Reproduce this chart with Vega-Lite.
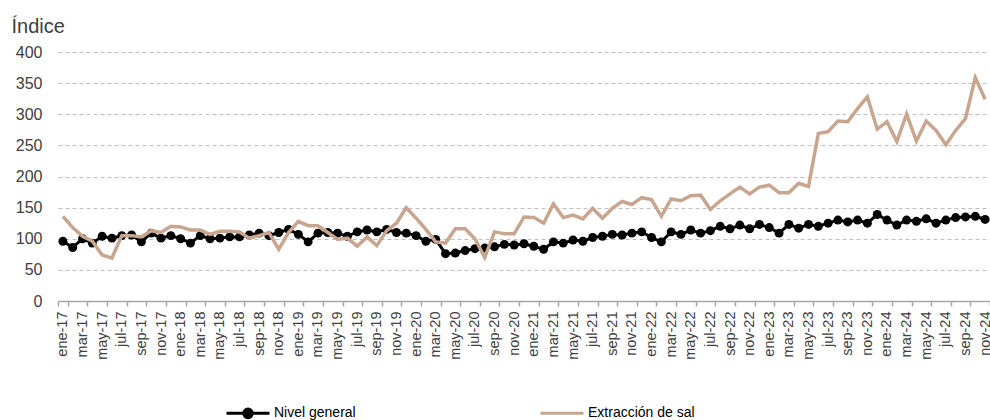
{
  "$schema": "https://vega.github.io/schema/vega-lite/v6.json",
  "width": 932,
  "height": 249,
  "autosize": {"type": "none"},
  "padding": {"left": 58, "top": 52, "right": 0, "bottom": 119},
  "background": "white",
  "config": {"view": {"stroke": null}, "font": "Liberation Sans"},
  "datasets": {
    "d": [
      {"mes":"ene-17","serie":"Nivel general","valor":96},{"mes":"feb-17","serie":"Nivel general","valor":86},{"mes":"mar-17","serie":"Nivel general","valor":100},{"mes":"abr-17","serie":"Nivel general","valor":93},{"mes":"may-17","serie":"Nivel general","valor":104},{"mes":"jun-17","serie":"Nivel general","valor":101},{"mes":"jul-17","serie":"Nivel general","valor":105},{"mes":"ago-17","serie":"Nivel general","valor":106},{"mes":"sep-17","serie":"Nivel general","valor":95},{"mes":"oct-17","serie":"Nivel general","valor":109},{"mes":"nov-17","serie":"Nivel general","valor":101},{"mes":"dic-17","serie":"Nivel general","valor":105},
      {"mes":"ene-18","serie":"Nivel general","valor":100},{"mes":"feb-18","serie":"Nivel general","valor":93},{"mes":"mar-18","serie":"Nivel general","valor":105},{"mes":"abr-18","serie":"Nivel general","valor":100},{"mes":"may-18","serie":"Nivel general","valor":101},{"mes":"jun-18","serie":"Nivel general","valor":103},{"mes":"jul-18","serie":"Nivel general","valor":103},{"mes":"ago-18","serie":"Nivel general","valor":106},{"mes":"sep-18","serie":"Nivel general","valor":109},{"mes":"oct-18","serie":"Nivel general","valor":105},{"mes":"nov-18","serie":"Nivel general","valor":110},{"mes":"dic-18","serie":"Nivel general","valor":115},
      {"mes":"ene-19","serie":"Nivel general","valor":107},{"mes":"feb-19","serie":"Nivel general","valor":95},{"mes":"mar-19","serie":"Nivel general","valor":109},{"mes":"abr-19","serie":"Nivel general","valor":110},{"mes":"may-19","serie":"Nivel general","valor":109},{"mes":"jun-19","serie":"Nivel general","valor":104},{"mes":"jul-19","serie":"Nivel general","valor":111},{"mes":"ago-19","serie":"Nivel general","valor":114},{"mes":"sep-19","serie":"Nivel general","valor":111},{"mes":"oct-19","serie":"Nivel general","valor":115},{"mes":"nov-19","serie":"Nivel general","valor":110},{"mes":"dic-19","serie":"Nivel general","valor":109},
      {"mes":"ene-20","serie":"Nivel general","valor":105},{"mes":"feb-20","serie":"Nivel general","valor":96},{"mes":"mar-20","serie":"Nivel general","valor":99},{"mes":"abr-20","serie":"Nivel general","valor":76},{"mes":"may-20","serie":"Nivel general","valor":77},{"mes":"jun-20","serie":"Nivel general","valor":81},{"mes":"jul-20","serie":"Nivel general","valor":84},{"mes":"ago-20","serie":"Nivel general","valor":85},{"mes":"sep-20","serie":"Nivel general","valor":87},{"mes":"oct-20","serie":"Nivel general","valor":91},{"mes":"nov-20","serie":"Nivel general","valor":90},{"mes":"dic-20","serie":"Nivel general","valor":92},
      {"mes":"ene-21","serie":"Nivel general","valor":88},{"mes":"feb-21","serie":"Nivel general","valor":83},{"mes":"mar-21","serie":"Nivel general","valor":95},{"mes":"abr-21","serie":"Nivel general","valor":93},{"mes":"may-21","serie":"Nivel general","valor":98},{"mes":"jun-21","serie":"Nivel general","valor":96},{"mes":"jul-21","serie":"Nivel general","valor":102},{"mes":"ago-21","serie":"Nivel general","valor":104},{"mes":"sep-21","serie":"Nivel general","valor":107},{"mes":"oct-21","serie":"Nivel general","valor":106},{"mes":"nov-21","serie":"Nivel general","valor":109},{"mes":"dic-21","serie":"Nivel general","valor":111},
      {"mes":"ene-22","serie":"Nivel general","valor":102},{"mes":"feb-22","serie":"Nivel general","valor":95},{"mes":"mar-22","serie":"Nivel general","valor":111},{"mes":"abr-22","serie":"Nivel general","valor":107},{"mes":"may-22","serie":"Nivel general","valor":114},{"mes":"jun-22","serie":"Nivel general","valor":109},{"mes":"jul-22","serie":"Nivel general","valor":113},{"mes":"ago-22","serie":"Nivel general","valor":120},{"mes":"sep-22","serie":"Nivel general","valor":116},{"mes":"oct-22","serie":"Nivel general","valor":122},{"mes":"nov-22","serie":"Nivel general","valor":116},{"mes":"dic-22","serie":"Nivel general","valor":123},
      {"mes":"ene-23","serie":"Nivel general","valor":118},{"mes":"feb-23","serie":"Nivel general","valor":109},{"mes":"mar-23","serie":"Nivel general","valor":123},{"mes":"abr-23","serie":"Nivel general","valor":117},{"mes":"may-23","serie":"Nivel general","valor":123},{"mes":"jun-23","serie":"Nivel general","valor":120},{"mes":"jul-23","serie":"Nivel general","valor":125},{"mes":"ago-23","serie":"Nivel general","valor":130},{"mes":"sep-23","serie":"Nivel general","valor":127},{"mes":"oct-23","serie":"Nivel general","valor":130},{"mes":"nov-23","serie":"Nivel general","valor":125},{"mes":"dic-23","serie":"Nivel general","valor":139},
      {"mes":"ene-24","serie":"Nivel general","valor":130},{"mes":"feb-24","serie":"Nivel general","valor":122},{"mes":"mar-24","serie":"Nivel general","valor":130},{"mes":"abr-24","serie":"Nivel general","valor":128},{"mes":"may-24","serie":"Nivel general","valor":132},{"mes":"jun-24","serie":"Nivel general","valor":125},{"mes":"jul-24","serie":"Nivel general","valor":130},{"mes":"ago-24","serie":"Nivel general","valor":134},{"mes":"sep-24","serie":"Nivel general","valor":135},{"mes":"oct-24","serie":"Nivel general","valor":136},{"mes":"nov-24","serie":"Nivel general","valor":131},
      {"mes":"ene-17","serie":"Extracción de sal","valor":136},{"mes":"feb-17","serie":"Extracción de sal","valor":118},{"mes":"mar-17","serie":"Extracción de sal","valor":104},{"mes":"abr-17","serie":"Extracción de sal","valor":96},{"mes":"may-17","serie":"Extracción de sal","valor":74},{"mes":"jun-17","serie":"Extracción de sal","valor":69},{"mes":"jul-17","serie":"Extracción de sal","valor":105},{"mes":"ago-17","serie":"Extracción de sal","valor":105},{"mes":"sep-17","serie":"Extracción de sal","valor":103},{"mes":"oct-17","serie":"Extracción de sal","valor":113},{"mes":"nov-17","serie":"Extracción de sal","valor":110},{"mes":"dic-17","serie":"Extracción de sal","valor":120},
      {"mes":"ene-18","serie":"Extracción de sal","valor":119},{"mes":"feb-18","serie":"Extracción de sal","valor":114},{"mes":"mar-18","serie":"Extracción de sal","valor":114},{"mes":"abr-18","serie":"Extracción de sal","valor":107},{"mes":"may-18","serie":"Extracción de sal","valor":112},{"mes":"jun-18","serie":"Extracción de sal","valor":112},{"mes":"jul-18","serie":"Extracción de sal","valor":111},{"mes":"ago-18","serie":"Extracción de sal","valor":101},{"mes":"sep-18","serie":"Extracción de sal","valor":105},{"mes":"oct-18","serie":"Extracción de sal","valor":110},{"mes":"nov-18","serie":"Extracción de sal","valor":83},{"mes":"dic-18","serie":"Extracción de sal","valor":110},
      {"mes":"ene-19","serie":"Extracción de sal","valor":128},{"mes":"feb-19","serie":"Extracción de sal","valor":121},{"mes":"mar-19","serie":"Extracción de sal","valor":121},{"mes":"abr-19","serie":"Extracción de sal","valor":110},{"mes":"may-19","serie":"Extracción de sal","valor":99},{"mes":"jun-19","serie":"Extracción de sal","valor":101},{"mes":"jul-19","serie":"Extracción de sal","valor":88},{"mes":"ago-19","serie":"Extracción de sal","valor":103},{"mes":"sep-19","serie":"Extracción de sal","valor":89},{"mes":"oct-19","serie":"Extracción de sal","valor":113},{"mes":"nov-19","serie":"Extracción de sal","valor":125},{"mes":"dic-19","serie":"Extracción de sal","valor":150},
      {"mes":"ene-20","serie":"Extracción de sal","valor":133},{"mes":"feb-20","serie":"Extracción de sal","valor":115},{"mes":"mar-20","serie":"Extracción de sal","valor":95},{"mes":"abr-20","serie":"Extracción de sal","valor":93},{"mes":"may-20","serie":"Extracción de sal","valor":116},{"mes":"jun-20","serie":"Extracción de sal","valor":116},{"mes":"jul-20","serie":"Extracción de sal","valor":100},{"mes":"ago-20","serie":"Extracción de sal","valor":70},{"mes":"sep-20","serie":"Extracción de sal","valor":111},{"mes":"oct-20","serie":"Extracción de sal","valor":108},{"mes":"nov-20","serie":"Extracción de sal","valor":108},{"mes":"dic-20","serie":"Extracción de sal","valor":135},
      {"mes":"ene-21","serie":"Extracción de sal","valor":134},{"mes":"feb-21","serie":"Extracción de sal","valor":125},{"mes":"mar-21","serie":"Extracción de sal","valor":156},{"mes":"abr-21","serie":"Extracción de sal","valor":134},{"mes":"may-21","serie":"Extracción de sal","valor":138},{"mes":"jun-21","serie":"Extracción de sal","valor":132},{"mes":"jul-21","serie":"Extracción de sal","valor":149},{"mes":"ago-21","serie":"Extracción de sal","valor":133},{"mes":"sep-21","serie":"Extracción de sal","valor":149},{"mes":"oct-21","serie":"Extracción de sal","valor":160},{"mes":"nov-21","serie":"Extracción de sal","valor":155},{"mes":"dic-21","serie":"Extracción de sal","valor":166},
      {"mes":"ene-22","serie":"Extracción de sal","valor":163},{"mes":"feb-22","serie":"Extracción de sal","valor":136},{"mes":"mar-22","serie":"Extracción de sal","valor":164},{"mes":"abr-22","serie":"Extracción de sal","valor":161},{"mes":"may-22","serie":"Extracción de sal","valor":169},{"mes":"jun-22","serie":"Extracción de sal","valor":170},{"mes":"jul-22","serie":"Extracción de sal","valor":147},{"mes":"ago-22","serie":"Extracción de sal","valor":161},{"mes":"sep-22","serie":"Extracción de sal","valor":172},{"mes":"oct-22","serie":"Extracción de sal","valor":183},{"mes":"nov-22","serie":"Extracción de sal","valor":172},{"mes":"dic-22","serie":"Extracción de sal","valor":183},
      {"mes":"ene-23","serie":"Extracción de sal","valor":186},{"mes":"feb-23","serie":"Extracción de sal","valor":174},{"mes":"mar-23","serie":"Extracción de sal","valor":174},{"mes":"abr-23","serie":"Extracción de sal","valor":189},{"mes":"may-23","serie":"Extracción de sal","valor":184},{"mes":"jun-23","serie":"Extracción de sal","valor":269},{"mes":"jul-23","serie":"Extracción de sal","valor":272},{"mes":"ago-23","serie":"Extracción de sal","valor":289},{"mes":"sep-23","serie":"Extracción de sal","valor":288},{"mes":"oct-23","serie":"Extracción de sal","valor":309},{"mes":"nov-23","serie":"Extracción de sal","valor":328},{"mes":"dic-23","serie":"Extracción de sal","valor":276},
      {"mes":"ene-24","serie":"Extracción de sal","valor":288},{"mes":"feb-24","serie":"Extracción de sal","valor":256},{"mes":"mar-24","serie":"Extracción de sal","valor":300},{"mes":"abr-24","serie":"Extracción de sal","valor":257},{"mes":"may-24","serie":"Extracción de sal","valor":289},{"mes":"jun-24","serie":"Extracción de sal","valor":274},{"mes":"jul-24","serie":"Extracción de sal","valor":251},{"mes":"ago-24","serie":"Extracción de sal","valor":274},{"mes":"sep-24","serie":"Extracción de sal","valor":293},{"mes":"oct-24","serie":"Extracción de sal","valor":359},{"mes":"nov-24","serie":"Extracción de sal","valor":324}
    ]
  },
  "data": {"name": "d"},
  "encoding": {
    "x": {
      "field": "mes", "type": "ordinal", "sort": null,
      "scale": {"paddingInner": 0, "paddingOuter": 0},
      "axis": {
        "title": null,
        "values": ["ene-17","mar-17","may-17","jul-17","sep-17","nov-17","ene-18","mar-18","may-18","jul-18","sep-18","nov-18","ene-19","mar-19","may-19","jul-19","sep-19","nov-19","ene-20","mar-20","may-20","jul-20","sep-20","nov-20","ene-21","mar-21","may-21","jul-21","sep-21","nov-21","ene-22","mar-22","may-22","jul-22","sep-22","nov-22","ene-23","mar-23","may-23","jul-23","sep-23","nov-23","ene-24","mar-24","may-24","jul-24","sep-24","nov-24"],
        "labelAngle": -90, "labelFontSize": 14.5, "labelColor": "#404040", "labelFont": "Liberation Sans",
        "labelPadding": 5, "tickSize": 5, "tickColor": "#A6A6A6", "tickWidth": 1.5,
        "domainColor": "#A6A6A6", "domainWidth": 1.5, "tickBand": "extent",
        "labelOverlap": false, "grid": false
      }
    },
    "y": {
      "field": "valor", "type": "quantitative",
      "scale": {"domain": [0, 400]},
      "axis": {
        "values": [0, 50, 100, 150, 200, 250, 300, 350, 400],
        "title": "Índice", "titleAngle": 0, "titleAlign": "left", "titleBaseline": "alphabetic",
        "titleX": -47, "titleY": -20, "titleFontSize": 20, "titleFontWeight": "normal",
        "titleColor": "#404040", "titleFont": "Liberation Sans",
        "domain": false, "ticks": false, "labelPadding": 16, "labelFontSize": 16,
        "labelColor": "#404040", "labelFont": "Liberation Sans",
        "grid": true, "gridDash": [4, 3], "gridColor": "#BFBFBF", "gridWidth": 1,
        "gridOpacity": {"condition": {"test": "datum.value === 0", "value": 0}, "value": 1}
      }
    },
    "color": {
      "field": "serie", "type": "nominal",
      "scale": {"domain": ["Nivel general", "Extracción de sal"], "range": ["#000000", "#C8A58F"]},
      "legend": {
        "orient": "none", "legendX": 167, "legendY": 338, "direction": "horizontal", "title": null,
        "symbolSize": 1849, "symbolStrokeWidth": 3, "labelFontSize": 14, "labelColor": "#000000",
        "labelFont": "Liberation Sans", "labelOffset": 3, "columnPadding": 178,
        "encode": {
          "symbols": {
            "update": {
              "shape": {"signal": "datum.value === 'Nivel general' ? 'M-1,0L1,0M-0.2,0A0.2,0.2,0,1,1,0.2,0A0.2,0.2,0,1,1,-0.2,0Z' : 'M-1,0L1,0M0,-0.2L0,-0.2M0,0.2L0,0.2'"},
              "fill": {"signal": "datum.value === 'Nivel general' ? '#000000' : 'transparent'"},
              "stroke": {"signal": "datum.value === 'Nivel general' ? '#000000' : '#C8A58F'"},
              "strokeWidth": {"value": 3},
              "opacity": {"value": 1}
            }
          }
        }
      }
    }
  },
  "layer": [
    {"transform": [{"filter": "datum.serie === 'Nivel general'"}], "mark": {"type": "line", "strokeWidth": 3}},
    {"transform": [{"filter": "datum.serie === 'Nivel general'"}], "mark": {"type": "point", "filled": true, "size": 80, "opacity": 1}},
    {"transform": [{"filter": "datum.serie === 'Extracción de sal'"}], "mark": {"type": "line", "strokeWidth": 3.5}}
  ]
}
